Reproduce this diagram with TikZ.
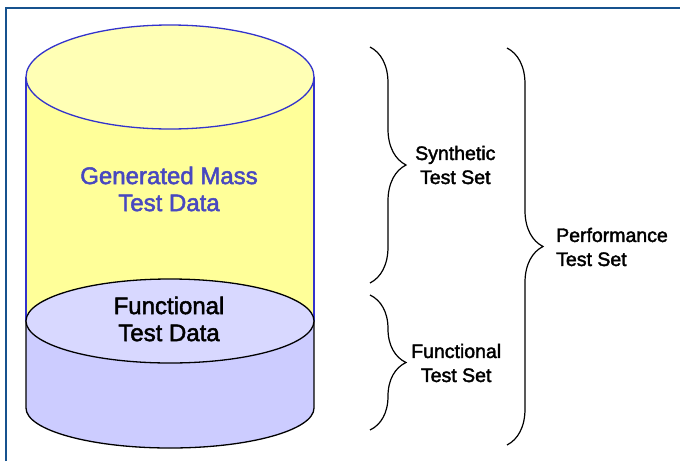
\documentclass[tikz,border=0pt]{standalone}
\usepackage{fontspec}
\setmainfont{Liberation Sans}[BoldFont=Liberation Sans, BoldFeatures={FakeBold=2}]
\usetikzlibrary{decorations.pathreplacing}

\definecolor{massfill}{RGB}{255,255,153}
\definecolor{masstop}{RGB}{255,255,181}
\definecolor{massline}{RGB}{51,51,204}
\definecolor{masstext}{RGB}{72,72,192}
\definecolor{funcfill}{RGB}{204,204,255}
\definecolor{functop}{RGB}{216,216,255}
\definecolor{framecol}{RGB}{22,82,142}

\begin{document}
\begin{tikzpicture}[
    x=1pt, y=-1pt,
    setbrace/.style={decorate, decoration={brace, amplitude=36pt}, line width=1.2pt},
    setlabel/.style={font=\fontsize{19.5}{24}\selectfont\bfseries, inner sep=0pt, anchor=west},
    datalabel/.style={font=\fontsize{24}{27}\selectfont\bfseries, align=center, inner sep=0pt}
  ]
  \useasboundingbox (0,0) rectangle (680,461);

  % frame along the top and the left
  \draw[framecol, line width=2.5pt] (6,461) -- (6,8) -- (680,8);

  % cylinder: yellow upper part, lavender lower part
  \fill[massfill] (26,77) rectangle (314,321);
  \fill[funcfill] (26,321) rectangle (314,408);
  \fill[funcfill] (170,408) ellipse[x radius=144, y radius=40];
  \draw[massline, line width=1.3pt] (26,77) -- (26,321) (314,77) -- (314,321);
  \draw[line width=1.3pt] (26,321) -- (26,408)
    arc[start angle=180, end angle=0, x radius=144, y radius=40] -- (314,321);
  \filldraw[fill=functop, draw=black, line width=1.3pt] (170,321) ellipse[x radius=144, y radius=42];
  \filldraw[fill=masstop, draw=massline, line width=1.3pt] (170,77) ellipse[x radius=144, y radius=52];

  \node[datalabel, text=masstext] (mass data) at (169,189) {Generated Mass\\Test Data};
  \node[datalabel] (func data) at (169,319) {Functional\\Test Data};

  % braces for the test sets
  \coordinate (syn top) at (370,47);
  \coordinate (syn bot) at (370,283);
  \coordinate (fun top) at (370,295);
  \coordinate (fun bot) at (370,430);
  \coordinate (perf top) at (507,48);
  \coordinate (perf bot) at (507,445);
  \draw[setbrace] (syn top) -- (syn bot);
  \draw[setbrace] (fun top) -- (fun bot);
  \draw[setbrace] (perf top) -- (perf bot);

  \node[setlabel, align=center] (syn set) at (415,165) {Synthetic\\Test Set};
  \node[setlabel, align=center] (fun set) at (411,363) {Functional\\Test Set};
  \node[setlabel, align=left] (perf set) at (556,247) {Performance\\Test Set};
\end{tikzpicture}
\end{document}
